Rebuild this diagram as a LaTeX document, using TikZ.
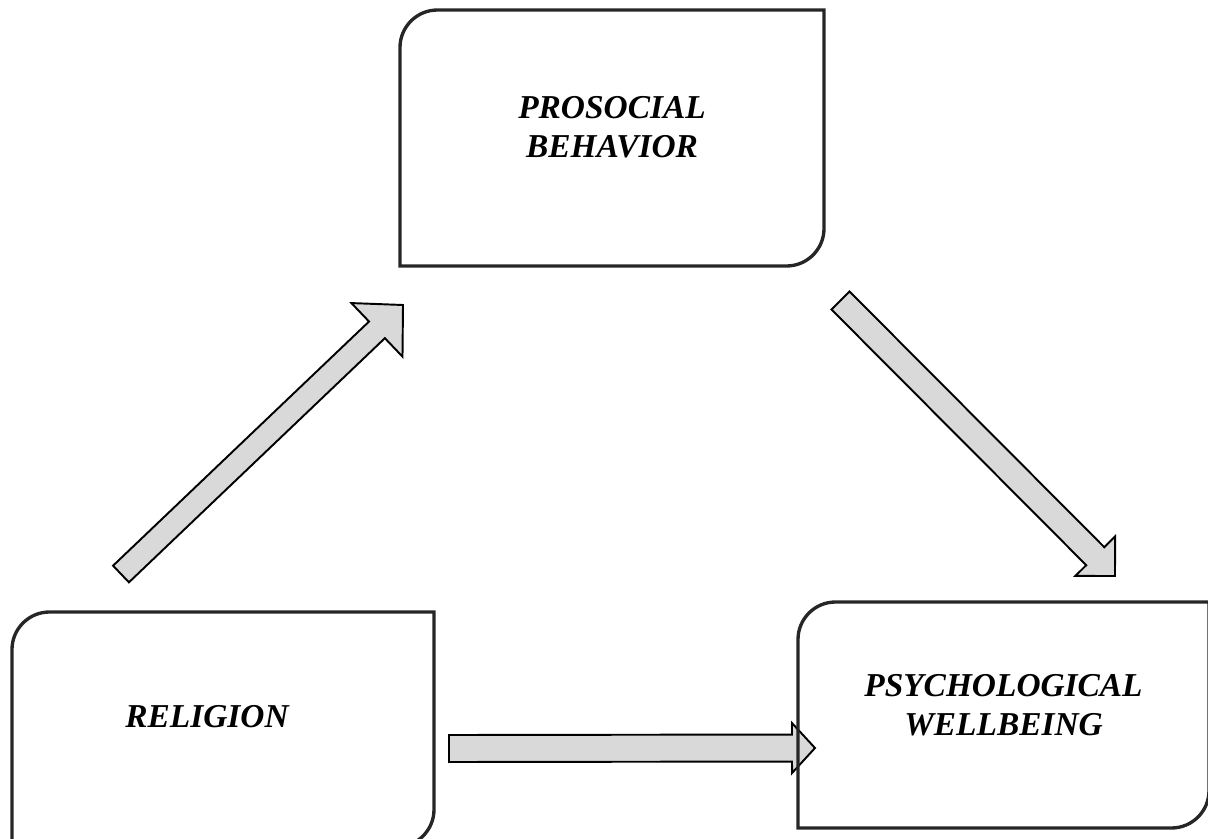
\documentclass[tikz,border=0pt]{standalone}
\usepackage{fontspec}
\setmainfont{Liberation Serif}
\usetikzlibrary{calc,positioning}
\definecolor{edge}{HTML}{262626}
\definecolor{shaft}{HTML}{D9D9D9}
\tikzset{frame/.style={inner sep=0pt,outer sep=0pt},lbl/.style={align=center,font=\fontsize{19}{22}\selectfont\bfseries\itshape,inner sep=0pt},outline/.style={draw=edge,line width=1.9pt},blk/.style={draw=black,fill=shaft,line width=1.1pt,line join=miter}}
\begin{document}
\begin{tikzpicture}
\useasboundingbox (0,0) rectangle (24.16,16.76);
\node[frame,minimum width=84.8mm,minimum height=51.2mm] (pro) at (12.24,14.0) {};
\node[frame,minimum width=84.4mm,minimum height=47mm] (rel) at (4.46,2.17) {};
\node[frame,minimum width=82.2mm,minimum height=45.2mm] (psy) at (20.07,2.46) {};
\node[lbl] (protxt) at ([yshift=2.2mm]pro.center) {PROSOCIAL\\BEHAVIOR};
\node[lbl] (reltxt) at ([shift={(-3.2mm,2.5mm)}]rel.center) {RELIGION};
\node[lbl] (psytxt) at ([yshift=2mm]psy.center) {PSYCHOLOGICAL\\WELLBEING};
% arrow ends
\coordinate (t1) at (2.42,5.28);\coordinate (h1) at (8.06,10.66);
\coordinate (t2) at (16.81,10.75);\coordinate (h2) at (22.30,5.24);
\coordinate (t3) at (8.98,1.79);\coordinate (h3) at (16.30,1.80);
\foreach \s/\e/\w/\hw/\hl in {t1/h1/.23/.74/.72,t2/h2/.255/.56/.56,t3/h3/.27/.5/.46}{
\coordinate (hb) at ($(\e)!\hl cm!(\s)$);
\draw[blk] ($(\s)!\w cm!90:(\e)$) -- ($(hb)!\w cm!90:(\e)$) -- ($(hb)!\hw cm!90:(\e)$) -- (\e) -- ($(hb)!\hw cm!-90:(\e)$) -- ($(hb)!\w cm!-90:(\e)$) -- ($(\s)!\w cm!-90:(\e)$) -- cycle;}
% boxes, round corners top left and bottom right
\foreach \b in {pro,rel,psy}{\draw[outline] (\b.north east) -- ([yshift=7.5mm]\b.south east) arc[start angle=0,end angle=-90,radius=7.5mm] -- (\b.south west) -- ([yshift=-7.5mm]\b.north west) arc[start angle=180,end angle=90,radius=7.5mm] -- cycle;}
\end{tikzpicture}
\end{document}
